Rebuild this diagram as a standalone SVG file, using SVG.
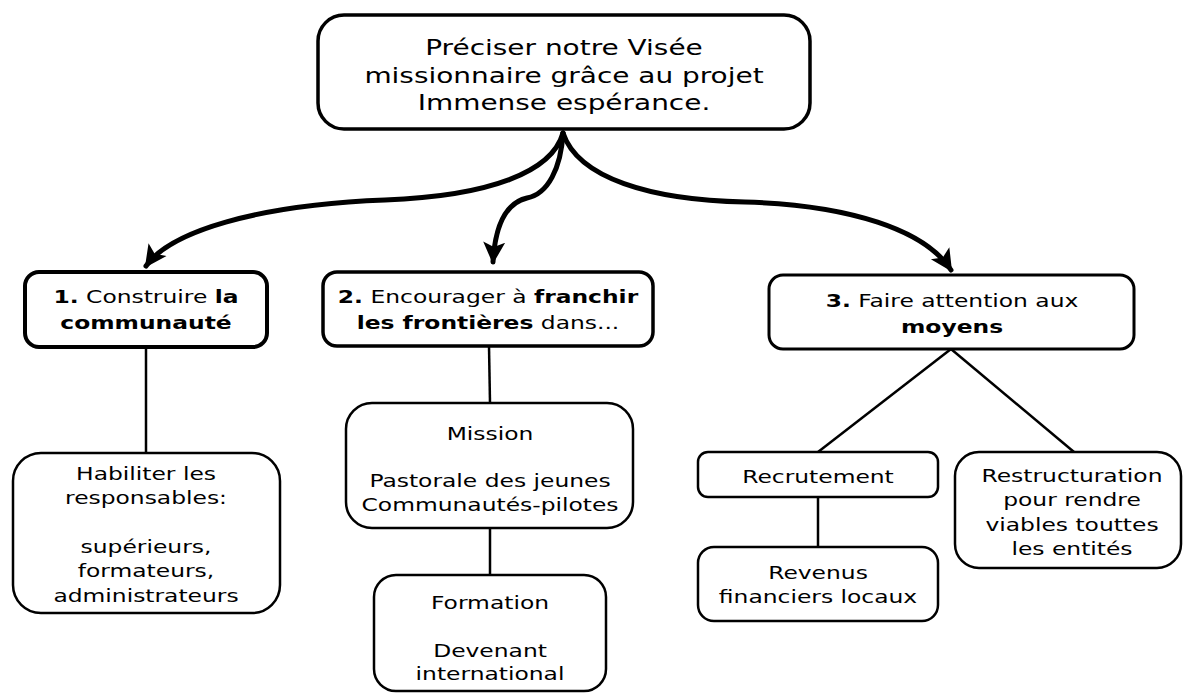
<svg xmlns="http://www.w3.org/2000/svg" width="1183" height="693" viewBox="0 0 1183 693">
<style>
.box{fill:#fff;stroke:#000}
.t{font-family:"DejaVu Sans",Verdana,sans-serif;font-size:18px;fill:#000;text-anchor:middle}
.big{font-size:21.5px}
.b{font-weight:bold}
.con{fill:none;stroke:#000;stroke-width:2.5}
.arr{fill:none;stroke:#000;stroke-width:5;stroke-linecap:round}
</style>
<defs>
<marker id="ah" markerUnits="userSpaceOnUse" markerWidth="26" markerHeight="26" viewBox="0 0 26 26" refX="20" refY="13" orient="auto">
<path d="M0,2 L22,13 L0,24 L5,13 Z" fill="#000"/>
</marker>
</defs>
<rect width="1183" height="693" fill="#fff"/>
<g id="connectors">
<path class="arr" d="M563,133 C552,172 490,196 385,200 C255,205 170,232 146,266" marker-end="url(#ah)"/>
<path class="arr" d="M563,133 C561,168 548,194 527,198 C505,203 495,228 493,262" marker-end="url(#ah)"/>
<path class="arr" d="M563,133 C578,178 650,200 745,202 C850,205 925,230 951,270" marker-end="url(#ah)"/>
<line class="con" x1="146" y1="347" x2="146" y2="453"/>
<line class="con" x1="489" y1="346" x2="490" y2="403"/>
<line class="con" x1="490" y1="528" x2="490" y2="575"/>
<line class="con" x1="951" y1="349" x2="818" y2="452"/>
<line class="con" x1="951" y1="349" x2="1074" y2="452"/>
<line class="con" x1="818" y1="497" x2="818" y2="547"/>
</g>
<g id="n0">
<rect class="box" x="318" y="15" width="492" height="114" rx="26" stroke-width="3.5"/>
<text class="t big" transform="translate(564 0) scale(1.3 1)" y="55">Préciser notre Visée</text>
<text class="t big" transform="translate(564 0) scale(1.3 1)" y="83">missionnaire grâce au projet</text>
<text class="t big" transform="translate(564 0) scale(1.3 1)" y="110">Immense espérance.</text>
</g>
<g id="n1">
<rect class="box" x="25" y="272" width="242" height="75" rx="14" stroke-width="4"/>
<text class="t" transform="translate(146 0) scale(1.3 1)" y="303"><tspan class="b">1.</tspan> Construire <tspan class="b">la</tspan></text>
<text class="t b" transform="translate(146 0) scale(1.3 1)" y="329">communauté</text>
</g>
<g id="n2">
<rect class="box" x="323" y="272" width="330" height="74" rx="14" stroke-width="3.5"/>
<text class="t" transform="translate(488 0) scale(1.3 1)" y="303"><tspan class="b">2.</tspan> Encourager à <tspan class="b">franchir</tspan></text>
<text class="t" transform="translate(488 0) scale(1.3 1)" y="329"><tspan class="b">les frontières</tspan> dans...</text>
</g>
<g id="n3">
<rect class="box" x="769" y="275" width="365" height="74" rx="14" stroke-width="3"/>
<text class="t" transform="translate(952 0) scale(1.3 1)" y="307"><tspan class="b">3.</tspan> Faire attention aux</text>
<text class="t b" transform="translate(952 0) scale(1.3 1)" y="333">moyens</text>
</g>
<g id="n4">
<rect class="box" x="13" y="453" width="267" height="160" rx="28" stroke-width="2.5"/>
<text class="t" transform="translate(146 0) scale(1.3 1)" y="480">Habiliter les</text>
<text class="t" transform="translate(146 0) scale(1.3 1)" y="504">responsables:</text>
<text class="t" transform="translate(146 0) scale(1.3 1)" y="553">supérieurs,</text>
<text class="t" transform="translate(146 0) scale(1.3 1)" y="577">formateurs,</text>
<text class="t" transform="translate(146 0) scale(1.3 1)" y="602">administrateurs</text>
</g>
<g id="n5">
<rect class="box" x="346" y="403" width="287" height="125" rx="26" stroke-width="2.5"/>
<text class="t" transform="translate(490 0) scale(1.3 1)" y="440">Mission</text>
<text class="t" transform="translate(490 0) scale(1.3 1)" y="487">Pastorale des jeunes</text>
<text class="t" transform="translate(490 0) scale(1.3 1)" y="511">Communautés-pilotes</text>
</g>
<g id="n6">
<rect class="box" x="374" y="575" width="232" height="116" rx="22" stroke-width="2.5"/>
<text class="t" transform="translate(490 0) scale(1.3 1)" y="609">Formation</text>
<text class="t" transform="translate(490 0) scale(1.3 1)" y="657">Devenant</text>
<text class="t" transform="translate(490 0) scale(1.3 1)" y="680">international</text>
</g>
<g id="n7">
<rect class="box" x="698" y="452" width="240" height="45" rx="10" stroke-width="2.5"/>
<text class="t" transform="translate(818 0) scale(1.3 1)" y="483">Recrutement</text>
</g>
<g id="n8">
<rect class="box" x="698" y="547" width="240" height="74" rx="16" stroke-width="2.5"/>
<text class="t" transform="translate(818 0) scale(1.3 1)" y="579">Revenus</text>
<text class="t" transform="translate(818 0) scale(1.3 1)" y="603">financiers locaux</text>
</g>
<g id="n9">
<rect class="box" x="955" y="452" width="226" height="116" rx="24" stroke-width="2.5"/>
<text class="t" transform="translate(1072 0) scale(1.3 1)" y="482">Restructuration</text>
<text class="t" transform="translate(1072 0) scale(1.3 1)" y="506">pour rendre</text>
<text class="t" transform="translate(1072 0) scale(1.3 1)" y="531">viables touttes</text>
<text class="t" transform="translate(1072 0) scale(1.3 1)" y="555">les entités</text>
</g>
</svg>
